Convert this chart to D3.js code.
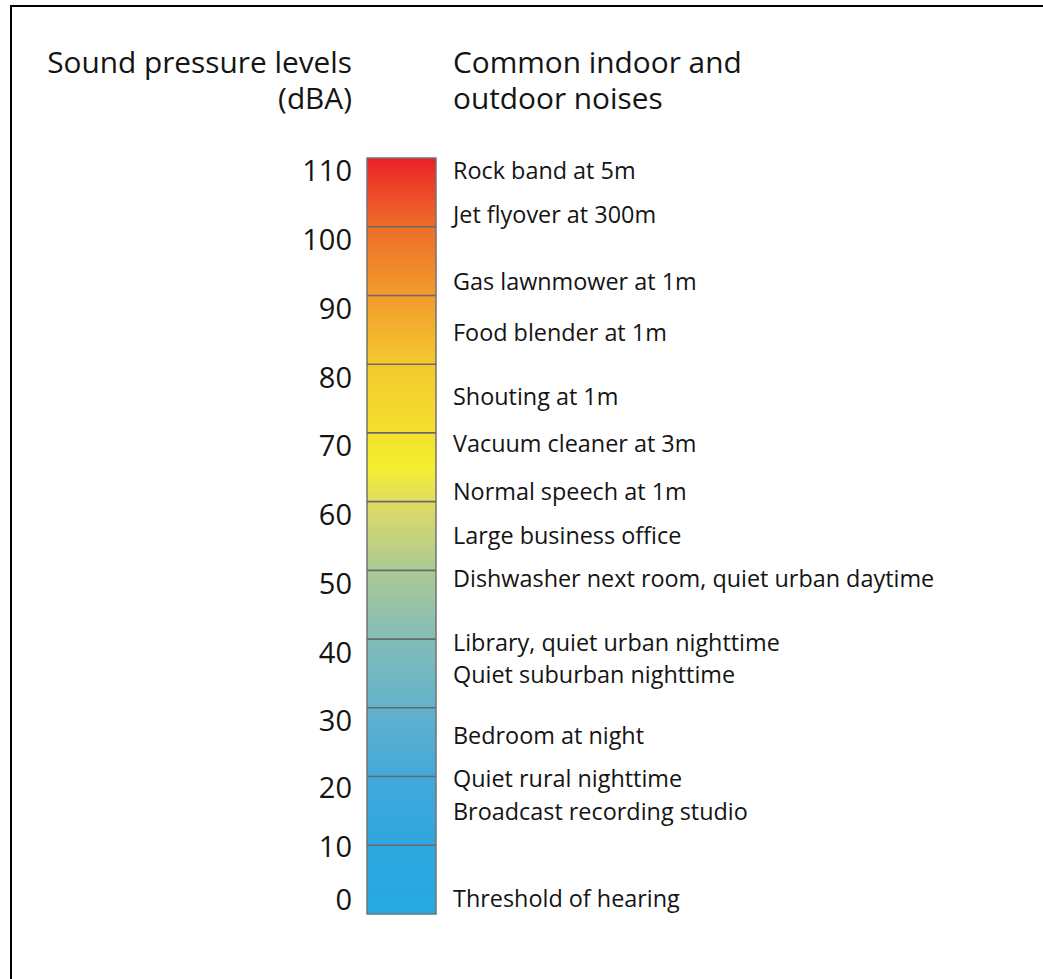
<!DOCTYPE html>
<html>
<head>
<meta charset="utf-8">
<script src="https://cdn.jsdelivr.net/npm/d3@7"></script>
<style>
  body { margin: 0; background: white; }
  #chart-container { width: 1043px; height: 979px; }
  text { font-family: 'Open Sans', 'Noto Sans', sans-serif; fill: #141414; }
</style>
</head>
<body>
<div id="chart-container"></div>
<script>
// scale ticks (dBA)
var tickValues = [110, 100, 90, 80, 70, 60, 50, 40, 30, 20, 10, 0]

// noises and where their label sits on the dBA bar
var noiseNames = ['Rock band at 5m', 'Jet flyover at 300m', 'Gas lawnmower at 1m', 'Food blender at 1m',
                  'Shouting at 1m', 'Vacuum cleaner at 3m', 'Normal speech at 1m', 'Large business office',
                  'Dishwasher next room, quiet urban daytime', 'Library, quiet urban nighttime',
                  'Quiet suburban nighttime', 'Bedroom at night', 'Quiet rural nighttime',
                  'Broadcast recording studio', 'Threshold of hearing']
var noiseLevels = [108.1, 101.7, 92.0, 84.5, 75.3, 68.4, 61.4, 55.0, 48.7, 39.4, 34.8, 25.9, 19.6, 14.8, 2.2]

// colour ramp along the bar
var rampLevels = [110, 105, 100, 90, 80, 70, 65, 60, 50, 45, 40, 30, 20, 10, 0]
var rampColours = ['#ec1f26', '#ec4927', '#ee6d29', '#f29b2c', '#f4c92e', '#f4e02e', '#f5ee30', '#e0dc62',
                   '#abca94', '#97c4a7', '#83bdb7', '#63b2cc', '#42a9da', '#2ea7df', '#26a9e1']

var headerLeft = ['Sound pressure levels', '(dBA)']
var headerRight = ['Common indoor and', 'outdoor noises']

var svg = d3.select('#chart-container')
  .append('svg')
  .attr('width', 1043)
  .attr('height', 979)

// frame (right and bottom edges run off the picture)
svg.append('rect')
  .attr('x', 11)
  .attr('y', 6)
  .attr('width', 1100)
  .attr('height', 1100)
  .style('fill', 'none')
  .style('stroke', 'black')
  .style('stroke-width', '2px')

var bar_x = 367
var bar_w = 69

var y = d3.scaleLinear()
  .domain([0, 110])
  .range([914, 158])

var defs = svg.append('defs')
var grad = defs.append('linearGradient')
  .attr('id', 'level-gradient')
  .attr('x1', 0).attr('x2', 0)
  .attr('y1', 0).attr('y2', 1)

grad.selectAll('stop')
  .data(rampLevels)
  .enter().append('stop')
    .attr('offset', function(d){ return (y(d) - y(110)) / (y(0) - y(110)) })
    .attr('stop-color', function(d, i){ return rampColours[i] })

svg.append('rect')
  .attr('x', bar_x)
  .attr('y', y(110))
  .attr('width', bar_w)
  .attr('height', y(0) - y(110))
  .style('fill', 'url(#level-gradient)')
  .style('stroke', '#737373')
  .style('stroke-width', '1.5px')

// dividers every 10 dBA
svg.append('g')
  .selectAll('line')
  .data(tickValues.filter(function(d){ return d > 0 && d < 110 }))
  .enter().append('line')
    .attr('x1', bar_x)
    .attr('x2', bar_x + bar_w)
    .attr('y1', function(d){ return y(d) })
    .attr('y2', function(d){ return y(d) })
    .style('stroke', '#6a6a6a')
    .style('stroke-width', '1.6px')

// tick labels sit a little under their line, the last two are squeezed
var tickNudge = {20: 11, 10: 1.5, 0: -14}

svg.append('g')
  .selectAll('text')
  .data(tickValues)
  .enter().append('text')
    .attr('x', 352)
    .attr('y', function(d){ return y(d) + (d in tickNudge ? tickNudge[d] : 13) })
    .attr('dy', '0.36em')
    .attr('text-anchor', 'end')
    .style('font-size', '29px')
    .text(function(d){ return d })

svg.append('g')
  .selectAll('text')
  .data(noiseNames)
  .enter().append('text')
    .attr('x', 453)
    .attr('y', function(d, i){ return y(noiseLevels[i]) })
    .attr('dy', '0.35em')
    .style('font-size', '23.4px')
    .text(function(d){ return d })

svg.append('g')
  .selectAll('text')
  .data(headerLeft)
  .enter().append('text')
    .attr('x', 352)
    .attr('y', function(d, i){ return 73 + i * 36 })
    .attr('text-anchor', 'end')
    .style('font-size', '29.8px')
    .text(function(d){ return d })

svg.append('g')
  .selectAll('text')
  .data(headerRight)
  .enter().append('text')
    .attr('x', 453)
    .attr('y', function(d, i){ return 73 + i * 36 })
    .style('font-size', '29.8px')
    .text(function(d){ return d })
</script>
</body>
</html>
